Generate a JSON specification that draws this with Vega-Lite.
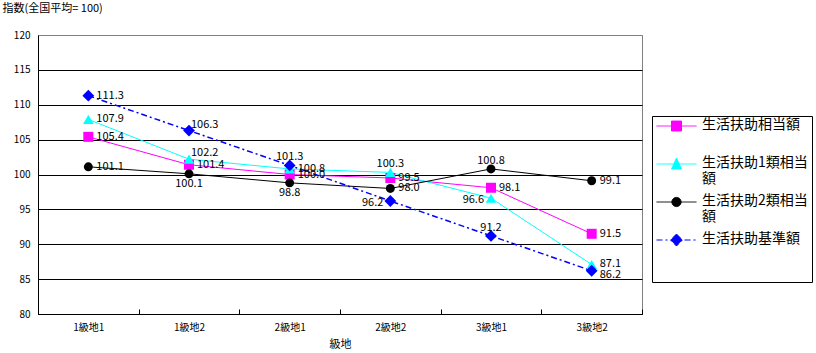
{
  "$schema": "https://vega.github.io/schema/vega-lite/v6.json",
  "width": 604,
  "height": 279,
  "autosize": {"type": "none"},
  "padding": {"left": 38, "top": 35, "right": 174, "bottom": 39},
  "background": "white",
  "config": {
    "font": "Noto Sans CJK JP",
    "view": {"stroke": "#808080", "strokeWidth": 1},
    "axis": {"labelColor": "black", "titleColor": "black", "domainColor": "black", "tickColor": "black", "labelFontSize": 10, "titleFontWeight": "normal", "titleFontSize": 11}
  },
  "data": {
    "values": [
      {"級地": "1級地1", "系列": "生活扶助相当額", "値": 105.4},
      {"級地": "1級地2", "系列": "生活扶助相当額", "値": 101.4},
      {"級地": "2級地1", "系列": "生活扶助相当額", "値": 100.0},
      {"級地": "2級地2", "系列": "生活扶助相当額", "値": 99.5},
      {"級地": "3級地1", "系列": "生活扶助相当額", "値": 98.1},
      {"級地": "3級地2", "系列": "生活扶助相当額", "値": 91.5},
      {"級地": "1級地1", "系列": "生活扶助1類相当額", "値": 107.9},
      {"級地": "1級地2", "系列": "生活扶助1類相当額", "値": 102.2},
      {"級地": "2級地1", "系列": "生活扶助1類相当額", "値": 100.8},
      {"級地": "2級地2", "系列": "生活扶助1類相当額", "値": 100.3},
      {"級地": "3級地1", "系列": "生活扶助1類相当額", "値": 96.6},
      {"級地": "3級地2", "系列": "生活扶助1類相当額", "値": 87.1},
      {"級地": "1級地1", "系列": "生活扶助2類相当額", "値": 101.1},
      {"級地": "1級地2", "系列": "生活扶助2類相当額", "値": 100.1},
      {"級地": "2級地1", "系列": "生活扶助2類相当額", "値": 98.8},
      {"級地": "2級地2", "系列": "生活扶助2類相当額", "値": 98.0},
      {"級地": "3級地1", "系列": "生活扶助2類相当額", "値": 100.8},
      {"級地": "3級地2", "系列": "生活扶助2類相当額", "値": 99.1},
      {"級地": "1級地1", "系列": "生活扶助基準額", "値": 111.3},
      {"級地": "1級地2", "系列": "生活扶助基準額", "値": 106.3},
      {"級地": "2級地1", "系列": "生活扶助基準額", "値": 101.3},
      {"級地": "2級地2", "系列": "生活扶助基準額", "値": 96.2},
      {"級地": "3級地1", "系列": "生活扶助基準額", "値": 91.2},
      {"級地": "3級地2", "系列": "生活扶助基準額", "値": 86.2}
    ]
  },
  "encoding": {
    "x": {
      "field": "級地", "type": "nominal", "bandPosition": 0.5,
      "sort": ["1級地1", "1級地2", "2級地1", "2級地2", "3級地1", "3級地2"],
      "scale": {"type": "band", "paddingInner": 0, "paddingOuter": 0},
      "axis": {"title": "級地", "labelAngle": 0, "tickBand": "extent", "tickSize": -5, "labelPadding": 13, "titlePadding": 6, "labelFontSize": 10, "titleFontSize": 11, "grid": false}
    },
    "y": {
      "field": "値", "type": "quantitative",
      "scale": {"domain": [80, 120], "nice": false, "zero": false},
      "axis": {
        "values": [80, 85, 90, 95, 100, 105, 110, 115, 120],
        "grid": true,
        "gridColor": {"condition": {"test": "datum.value === 120", "value": "#808080"}, "value": "black"},
        "gridOpacity": 1,
        "ticks": false,
        "labelPadding": 8,
        "labelFontSize": 10,
        "title": "指数(全国平均= 100)",
        "titleAngle": 0, "titleAlign": "left", "titleBaseline": "middle",
        "titleX": -36, "titleY": -27, "titleFontSize": 11
      }
    }
  },
  "layer": [
    {
      "transform": [{"filter": "datum['系列'] !== '生活扶助基準額'"}],
      "mark": {"type": "line", "strokeWidth": 1},
      "encoding": {
        "color": {"field": "系列", "type": "nominal", "legend": null, "scale": {"domain": ["生活扶助相当額", "生活扶助1類相当額", "生活扶助2類相当額"], "range": ["#FF00FF", "#00FFFF", "#000000"]}}
      }
    },
    {
      "transform": [{"filter": "datum['系列'] === '生活扶助基準額'"}],
      "mark": {"type": "line", "strokeWidth": 1.5, "color": "#0000FF", "strokeDash": [6, 3, 2, 3]},
      "encoding": {}
    },
    {
      "transform": [{"filter": "datum['系列'] === '生活扶助相当額'"}],
      "mark": {"type": "point", "shape": "square", "filled": true, "opacity": 1, "size": 100, "color": "#FF00FF"}
    },
    {
      "transform": [{"filter": "datum['系列'] === '生活扶助1類相当額'"}],
      "mark": {"type": "point", "shape": "triangle-up", "filled": true, "opacity": 1, "size": 110, "color": "#00FFFF"}
    },
    {
      "transform": [{"filter": "datum['系列'] === '生活扶助2類相当額'"}],
      "mark": {"type": "point", "shape": "circle", "filled": true, "opacity": 1, "size": 80, "color": "#000000"}
    },
    {
      "transform": [{"filter": "datum['系列'] === '生活扶助基準額'"}],
      "mark": {"type": "point", "shape": "diamond", "filled": true, "opacity": 1, "size": 140, "color": "#0000FF"}
    },
    {
      "mark": {"type": "point", "filled": true, "opacity": 0, "strokeWidth": 1},
      "encoding": {
        "fill": {
          "field": "系列", "type": "nominal",
          "scale": {"domain": ["生活扶助相当額", "生活扶助1類相当額", "生活扶助2類相当額", "生活扶助基準額"], "range": ["#FF00FF", "#00FFFF", "#000000", "#0000FF"]},
          "legend": {
            "title": null, "orient": "none", "legendX": 614, "legendY": 81,
            "direction": "vertical",
            "strokeColor": "black", "fillColor": "white", "padding": 4,
            "symbolSize": 1600, "symbolStrokeWidth": 1, "symbolOpacity": 1,
            "clipHeight": 12,
            "labelFontSize": 14, "labelColor": "black", "labelOffset": 5, "labelLimit": 200,
            "labelBaseline": "top", "rowPadding": 8,
            "labelExpr": "datum.label === '生活扶助1類相当額' ? ['生活扶助1類相当', '額'] : datum.label === '生活扶助2類相当額' ? ['生活扶助2類相当', '額'] : datum.label === '生活扶助基準額' ? [datum.label, '', ''] : [datum.label, '']",
            "encode": {
              "labels": {"update": {"dy": {"value": -8}, "lineHeight": {"value": 16}}}
            }
          }
        },
        "stroke": {"field": "系列", "type": "nominal", "scale": {"domain": ["生活扶助相当額", "生活扶助1類相当額", "生活扶助2類相当額", "生活扶助基準額"], "range": ["#FF00FF", "#00FFFF", "#000000", "#0000FF"]}},
        "strokeDash": {"field": "系列", "type": "nominal", "scale": {"domain": ["生活扶助相当額", "生活扶助1類相当額", "生活扶助2類相当額", "生活扶助基準額"], "range": [[1, 0], [1, 0], [1, 0], [6, 3, 2, 3]]}},
        "shape": {"field": "系列", "type": "nominal", "scale": {"domain": ["生活扶助相当額", "生活扶助1類相当額", "生活扶助2類相当額", "生活扶助基準額"], "range": [
          "M-1,0H1M-0.25,-0.25H0.25V0.25H-0.25Z",
          "M-1,0H1M0,-0.3L0.25,0.25H-0.25Z",
          "M-1,0H1M0.23,0A0.23,0.23 0 1 1 -0.23,0A0.23,0.23 0 1 1 0.23,0Z",
          "M-1,0H1M0,-0.3L0.3,0L0,0.3L-0.3,0Z"
        ]}}
      }
    },
    {
      "transform": [{"filter": "!((datum['系列'] === '生活扶助1類相当額' && datum['級地'] === '2級地2') || (datum['系列'] === '生活扶助2類相当額' && datum['級地'] === '3級地1') || (datum['系列'] === '生活扶助基準額' && (datum['級地'] === '2級地1' || datum['級地'] === '3級地1' || datum['級地'] === '2級地2' || datum['級地'] === '1級地2' || datum['級地'] === '3級地2')) || (datum['系列'] === '生活扶助2類相当額' && (datum['級地'] === '1級地2' || datum['級地'] === '2級地1')) || (datum['系列'] === '生活扶助1類相当額' && (datum['級地'] === '3級地1' || datum['級地'] === '1級地2')))"}],
      "mark": {"type": "text", "align": "left", "baseline": "middle", "dx": 8, "fontSize": 11, "color": "black"},
      "encoding": {"text": {"field": "値", "type": "quantitative", "format": ".1f"}}
    },
    {
      "transform": [{"filter": "datum['系列'] === '生活扶助基準額' && datum['級地'] === '3級地2'"}],
      "mark": {"type": "text", "align": "left", "baseline": "middle", "dx": 8, "dy": 4, "fontSize": 11, "color": "black"},
      "encoding": {"text": {"field": "値", "type": "quantitative", "format": ".1f"}}
    },
    {
      "transform": [{"filter": "(datum['系列'] === '生活扶助1類相当額' && datum['級地'] === '2級地2') || (datum['系列'] === '生活扶助2類相当額' && datum['級地'] === '3級地1') || (datum['系列'] === '生活扶助基準額' && (datum['級地'] === '2級地1' || datum['級地'] === '3級地1'))"}],
      "mark": {"type": "text", "align": "center", "baseline": "bottom", "dy": -3, "fontSize": 11, "color": "black"},
      "encoding": {"text": {"field": "値", "type": "quantitative", "format": ".1f"}}
    },
    {
      "transform": [{"filter": "datum['系列'] === '生活扶助2類相当額' && (datum['級地'] === '1級地2' || datum['級地'] === '2級地1')"}],
      "mark": {"type": "text", "align": "center", "baseline": "top", "dy": 4, "fontSize": 11, "color": "black"},
      "encoding": {"text": {"field": "値", "type": "quantitative", "format": ".1f"}}
    },
    {
      "transform": [{"filter": "(datum['系列'] === '生活扶助基準額' && datum['級地'] === '2級地2') || (datum['系列'] === '生活扶助1類相当額' && datum['級地'] === '3級地1')"}],
      "mark": {"type": "text", "align": "right", "baseline": "middle", "dx": -7, "dy": 2, "fontSize": 11, "color": "black"},
      "encoding": {"text": {"field": "値", "type": "quantitative", "format": ".1f"}}
    },
    {
      "transform": [{"filter": "(datum['系列'] === '生活扶助基準額' && datum['級地'] === '1級地2') || (datum['系列'] === '生活扶助1類相当額' && datum['級地'] === '1級地2')"}],
      "mark": {"type": "text", "align": "left", "baseline": "middle", "dx": 2, "dy": -6, "fontSize": 11, "color": "black"},
      "encoding": {"text": {"field": "値", "type": "quantitative", "format": ".1f"}}
    }
  ]
}
